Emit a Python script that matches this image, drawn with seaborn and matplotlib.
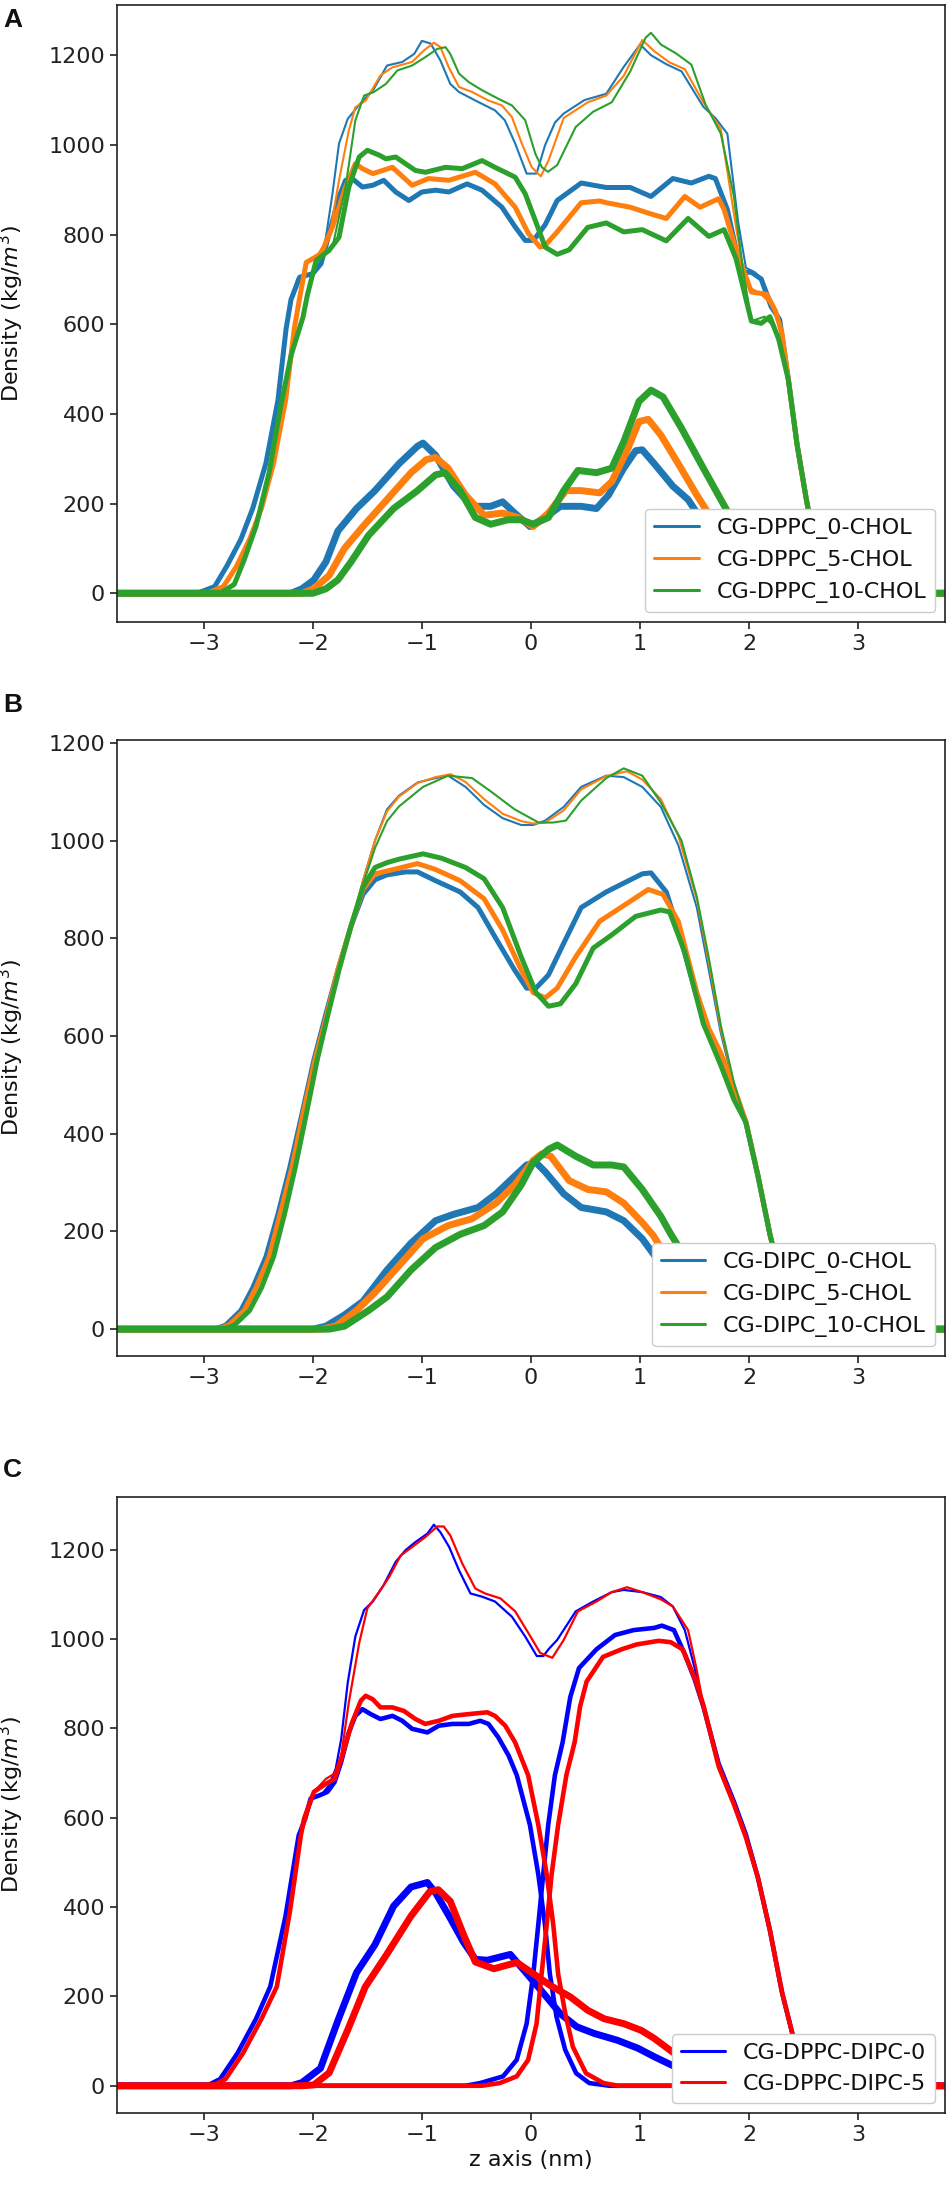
import matplotlib
matplotlib.use("Agg")
import matplotlib.pyplot as plt
import seaborn as sns

# ---------------- DATA ----------------
# x in nm, density in kg/m^3
# Panel A : CG-DPPC with 0 / 5 / 10 CHOL
a_labels = ["CG-DPPC_0-CHOL", "CG-DPPC_5-CHOL", "CG-DPPC_10-CHOL"]
a_colors = ["#1f77b4", "#ff7f0e", "#2ca02c"]

a_tot_0 = [(-3.8, 0), (-3.06, 0), (-2.9, 15), (-2.79, 60), (-2.66, 120), (-2.55, 190), (-2.43, 290),
           (-2.32, 430), (-2.245, 590), (-2.2, 660), (-2.14, 702), (-2.02, 712), (-1.94, 735), (-1.88, 794),
           (-1.82, 891), (-1.76, 1003), (-1.68, 1058), (-1.58, 1088), (-1.44, 1125), (-1.32, 1177),
           (-1.18, 1185), (-1.07, 1203), (-1.0, 1232), (-0.92, 1226), (-0.83, 1188), (-0.74, 1136),
           (-0.66, 1118), (-0.51, 1099), (-0.33, 1077), (-0.24, 1055), (-0.145, 1003), (-0.04, 936),
           (0.05, 936), (0.13, 1000), (0.22, 1050), (0.30, 1070), (0.49, 1100), (0.69, 1114), (0.85, 1174),
           (1.0, 1224), (1.10, 1200), (1.24, 1180), (1.38, 1164), (1.58, 1085), (1.69, 1060), (1.80, 1025),
           (1.90, 826), (1.97, 726), (2.05, 716), (2.12, 701), (2.22, 640), (2.28, 610), (2.36, 475),
           (2.44, 330), (2.52, 215), (2.60, 110), (2.68, 40), (2.78, 5), (2.9, 0), (3.8, 0)]
a_tot_5 = [(-3.8, 0), (-2.97, 0), (-2.82, 15), (-2.70, 60), (-2.58, 120), (-2.47, 190), (-2.36, 290),
           (-2.25, 430), (-2.17, 590), (-2.12, 660), (-2.06, 735), (-1.97, 750), (-1.85, 794), (-1.76, 921),
           (-1.67, 1032), (-1.61, 1084), (-1.515, 1099), (-1.38, 1155), (-1.27, 1173), (-1.09, 1185),
           (-0.98, 1211), (-0.89, 1228), (-0.83, 1218), (-0.754, 1173), (-0.66, 1129), (-0.54, 1118),
           (-0.39, 1099), (-0.266, 1088), (-0.175, 1062), (-0.084, 1003), (0.007, 950), (0.09, 930),
           (0.16, 965), (0.30, 1060), (0.52, 1095), (0.69, 1110), (0.85, 1154), (1.02, 1234), (1.13, 1209),
           (1.27, 1184), (1.41, 1169), (1.58, 1095), (1.74, 1035), (1.88, 816), (1.97, 687), (2.11, 667),
           (2.22, 640), (2.29, 600), (2.36, 475), (2.44, 330), (2.52, 215), (2.60, 110), (2.68, 40),
           (2.78, 5), (2.9, 0), (3.8, 0)]
a_tot_10 = [(-3.8, 0), (-2.85, 0), (-2.72, 20), (-2.63, 74), (-2.52, 150), (-2.40, 270), (-2.30, 410),
            (-2.20, 530), (-2.09, 616), (-2.05, 665), (-1.97, 742), (-1.925, 746), (-1.82, 772), (-1.70, 906),
            (-1.61, 1055), (-1.53, 1110), (-1.44, 1118), (-1.33, 1136), (-1.225, 1166), (-1.09, 1177),
            (-0.967, 1196), (-0.86, 1214), (-0.784, 1218), (-0.74, 1203), (-0.66, 1159), (-0.57, 1140),
            (-0.449, 1122), (-0.30, 1103), (-0.175, 1088), (-0.053, 1055), (0.04, 980), (0.10, 950),
            (0.156, 940), (0.24, 955), (0.41, 1040), (0.57, 1074), (0.74, 1095), (0.91, 1164), (1.05, 1239),
            (1.10, 1250), (1.19, 1224), (1.33, 1204), (1.47, 1179), (1.60, 1090), (1.74, 1025), (1.86, 885),
            (1.94, 726), (2.02, 607), (2.14, 617), (2.24, 590), (2.30, 540), (2.36, 475), (2.44, 330),
            (2.52, 215), (2.60, 110), (2.68, 40), (2.78, 5), (2.9, 0), (3.8, 0)]

a_mid_0 = [(-3.8, 0), (-3.06, 0), (-2.9, 15), (-2.79, 60), (-2.66, 120), (-2.55, 190), (-2.43, 290),
           (-2.32, 430), (-2.245, 590), (-2.2, 655), (-2.12, 705), (-2.0, 713), (-1.925, 735), (-1.85, 802),
           (-1.76, 884), (-1.70, 921), (-1.64, 925), (-1.545, 906), (-1.45, 910), (-1.35, 921), (-1.24, 895),
           (-1.12, 876), (-1.0, 895), (-0.875, 899), (-0.754, 895), (-0.586, 913), (-0.449, 899),
           (-0.266, 861), (-0.145, 817), (-0.053, 787), (0.023, 787), (0.13, 822), (0.24, 876), (0.46, 915),
           (0.69, 905), (0.91, 905), (1.10, 885), (1.30, 925), (1.47, 915), (1.63, 930), (1.69, 925),
           (1.80, 856), (1.88, 766), (1.94, 716), (2.02, 716), (2.11, 701), (2.20, 640), (2.28, 610),
           (2.36, 475), (2.44, 330), (2.52, 215), (2.60, 110), (2.68, 40), (2.78, 5), (2.9, 0), (3.8, 0)]
a_mid_5 = [(-3.8, 0), (-2.97, 0), (-2.82, 15), (-2.70, 60), (-2.58, 120), (-2.47, 190), (-2.36, 290),
           (-2.25, 430), (-2.17, 590), (-2.12, 660), (-2.06, 738), (-1.925, 757), (-1.82, 817), (-1.70, 906),
           (-1.61, 958), (-1.545, 947), (-1.45, 936), (-1.27, 950), (-1.09, 910), (-0.94, 925), (-0.754, 921),
           (-0.51, 939), (-0.33, 913), (-0.145, 861), (-0.023, 802), (0.084, 772), (0.13, 776), (0.24, 806),
           (0.46, 871), (0.63, 875), (0.69, 871), (0.91, 861), (1.10, 846), (1.24, 836), (1.41, 885),
           (1.55, 861), (1.72, 880), (1.77, 856), (1.88, 766), (2.02, 672), (2.16, 667), (2.24, 630),
           (2.30, 580), (2.36, 475), (2.44, 330), (2.52, 215), (2.60, 110), (2.68, 40), (2.78, 5), (2.9, 0),
           (3.8, 0)]
a_mid_10 = [(-3.8, 0), (-2.85, 0), (-2.72, 20), (-2.63, 74), (-2.52, 150), (-2.40, 270), (-2.30, 410),
            (-2.20, 530), (-2.09, 616), (-2.05, 665), (-1.97, 742), (-1.85, 765), (-1.76, 794), (-1.67, 906),
            (-1.575, 973), (-1.50, 988), (-1.39, 977), (-1.33, 969), (-1.24, 973), (-1.06, 943),
            (-0.967, 939), (-0.784, 950), (-0.63, 947), (-0.449, 965), (-0.33, 950), (-0.145, 928),
            (-0.053, 891), (0.04, 831), (0.13, 772), (0.24, 756), (0.35, 766), (0.52, 816), (0.69, 826),
            (0.85, 806), (1.02, 811), (1.24, 786), (1.44, 836), (1.63, 796), (1.77, 811), (1.88, 746),
            (2.02, 607), (2.11, 602), (2.19, 617), (2.27, 567), (2.36, 475), (2.44, 330), (2.52, 215),
            (2.60, 110), (2.68, 40), (2.78, 5), (2.9, 0), (3.8, 0)]

a_low_0 = [(-3.8, 0), (-2.2, 0), (-2.1, 10), (-1.99, 30), (-1.88, 70), (-1.77, 139), (-1.60, 189),
           (-1.43, 229), (-1.21, 289), (-1.04, 328), (-0.99, 335), (-0.875, 308), (-0.71, 239), (-0.54, 194),
           (-0.37, 194), (-0.26, 204), (-0.15, 179), (-0.01, 149), (0.13, 169), (0.27, 194), (0.46, 194),
           (0.60, 189), (0.71, 219), (0.85, 279), (0.96, 318), (1.02, 320), (1.13, 289), (1.30, 239),
           (1.44, 209), (1.60, 150), (1.80, 80), (2.0, 25), (2.2, 3), (2.35, 0), (3.8, 0)]
a_low_5 = [(-3.8, 0), (-2.1, 0), (-1.99, 10), (-1.85, 40), (-1.71, 100), (-1.54, 149), (-1.32, 209),
           (-1.10, 269), (-0.96, 298), (-0.875, 303), (-0.76, 279), (-0.60, 219), (-0.43, 174), (-0.26, 179),
           (-0.12, 169), (0.02, 149), (0.16, 179), (0.32, 229), (0.46, 229), (0.63, 224), (0.74, 249),
           (0.88, 318), (0.99, 383), (1.075, 388), (1.19, 353), (1.35, 289), (1.52, 219), (1.70, 150),
           (1.90, 80), (2.10, 25), (2.30, 3), (2.45, 0), (3.8, 0)]
a_low_10 = [(-3.8, 0), (-2.0, 0), (-1.88, 10), (-1.77, 30), (-1.65, 70), (-1.49, 129), (-1.26, 189),
            (-1.04, 229), (-0.875, 264), (-0.79, 269), (-0.65, 229), (-0.51, 169), (-0.37, 154), (-0.21, 164),
            (-0.09, 164), (0.02, 154), (0.16, 169), (0.30, 229), (0.43, 274), (0.60, 269), (0.74, 279),
            (0.85, 338), (0.99, 428), (1.10, 453), (1.21, 438), (1.38, 368), (1.58, 279), (1.74, 209),
            (1.90, 140), (2.10, 70), (2.30, 20), (2.50, 2), (2.6, 0), (3.8, 0)]

# Panel B : CG-DIPC with 0 / 5 / 10 CHOL
b_labels = ["CG-DIPC_0-CHOL", "CG-DIPC_5-CHOL", "CG-DIPC_10-CHOL"]
b_colors = ["#1f77b4", "#ff7f0e", "#2ca02c"]

b_tot_0 = [(-3.8, 0), (-2.9, 0), (-2.8, 8), (-2.66, 38), (-2.55, 85), (-2.43, 148), (-2.32, 235),
           (-2.21, 332), (-2.10, 440), (-1.99, 551), (-1.88, 645), (-1.77, 735), (-1.65, 825), (-1.54, 918),
           (-1.43, 1000), (-1.32, 1064), (-1.21, 1092), (-1.04, 1119), (-0.875, 1128), (-0.76, 1133),
           (-0.60, 1110), (-0.43, 1073), (-0.26, 1046), (-0.09, 1032), (0.02, 1032), (0.13, 1041),
           (0.30, 1069), (0.46, 1110), (0.69, 1133), (0.85, 1130), (1.02, 1110), (1.19, 1069), (1.35, 991),
           (1.52, 863), (1.63, 735), (1.74, 606), (1.86, 496), (1.97, 423), (2.08, 313), (2.19, 194),
           (2.3, 95), (2.4, 35), (2.5, 8), (2.6, 0), (3.8, 0)]
b_tot_5 = [(-3.8, 0), (-2.88, 0), (-2.77, 8), (-2.63, 38), (-2.52, 85), (-2.40, 148), (-2.30, 235),
           (-2.19, 332), (-2.09, 440), (-1.98, 551), (-1.87, 645), (-1.77, 735), (-1.65, 825), (-1.54, 918),
           (-1.43, 1000), (-1.32, 1060), (-1.21, 1090), (-1.04, 1118), (-0.875, 1130), (-0.735, 1136),
           (-0.60, 1120), (-0.43, 1085), (-0.26, 1055), (-0.09, 1040), (0.02, 1035), (0.13, 1037),
           (0.30, 1062), (0.46, 1105), (0.69, 1132), (0.88, 1142), (1.02, 1125), (1.19, 1085), (1.35, 1010),
           (1.52, 880), (1.63, 750), (1.74, 615), (1.86, 500), (1.97, 425), (2.08, 315), (2.19, 194),
           (2.3, 95), (2.4, 35), (2.5, 8), (2.6, 0), (3.8, 0)]
b_tot_10 = [(-3.8, 0), (-2.82, 0), (-2.72, 8), (-2.58, 38), (-2.47, 85), (-2.36, 148), (-2.26, 235),
            (-2.16, 332), (-2.06, 440), (-1.96, 551), (-1.86, 645), (-1.76, 735), (-1.65, 825), (-1.54, 910),
            (-1.43, 985), (-1.32, 1040), (-1.21, 1070), (-0.99, 1110), (-0.76, 1133), (-0.54, 1128),
            (-0.37, 1101), (-0.15, 1064), (0.07, 1037), (0.20, 1037), (0.32, 1041), (0.46, 1082),
            (0.69, 1128), (0.85, 1148), (1.02, 1133), (1.19, 1078), (1.38, 1000), (1.52, 885), (1.63, 760),
            (1.74, 622), (1.86, 505), (1.97, 425), (2.08, 315), (2.19, 194), (2.3, 95), (2.4, 35), (2.5, 8),
            (2.6, 0), (3.8, 0)]

b_mid_0 = [(-3.8, 0), (-2.9, 0), (-2.8, 8), (-2.66, 38), (-2.55, 85), (-2.43, 148), (-2.32, 235),
           (-2.21, 332), (-2.10, 440), (-1.99, 551), (-1.88, 645), (-1.77, 735), (-1.65, 825), (-1.54, 890),
           (-1.43, 920), (-1.32, 930), (-1.15, 936), (-1.04, 936), (-0.875, 918), (-0.65, 895),
           (-0.485, 863), (-0.32, 799), (-0.15, 735), (-0.04, 698), (0.045, 698), (0.16, 725), (0.30, 790),
           (0.46, 863), (0.69, 895), (0.85, 913), (1.02, 932), (1.10, 934), (1.24, 895), (1.35, 817),
           (1.52, 680), (1.63, 612), (1.74, 560), (1.86, 490), (1.97, 423), (2.08, 313), (2.19, 194),
           (2.3, 95), (2.4, 35), (2.5, 8), (2.6, 0), (3.8, 0)]
b_mid_5 = [(-3.8, 0), (-2.88, 0), (-2.77, 8), (-2.63, 38), (-2.52, 85), (-2.40, 148), (-2.30, 235),
           (-2.19, 332), (-2.09, 440), (-1.98, 551), (-1.87, 645), (-1.77, 735), (-1.65, 825), (-1.54, 900),
           (-1.43, 932), (-1.26, 941), (-1.04, 953), (-0.875, 941), (-0.65, 918), (-0.43, 881), (-0.26, 817),
           (-0.09, 735), (0.02, 689), (0.13, 678), (0.24, 698), (0.41, 762), (0.63, 835), (0.85, 867),
           (1.075, 900), (1.21, 890), (1.35, 835), (1.52, 689), (1.63, 615), (1.74, 565), (1.86, 495),
           (1.97, 425), (2.08, 315), (2.19, 194), (2.3, 95), (2.4, 35), (2.5, 8), (2.6, 0), (3.8, 0)]
b_mid_10 = [(-3.8, 0), (-2.82, 0), (-2.72, 8), (-2.58, 38), (-2.47, 85), (-2.36, 148), (-2.26, 235),
            (-2.16, 332), (-2.06, 440), (-1.96, 551), (-1.86, 645), (-1.76, 735), (-1.65, 825), (-1.54, 905),
            (-1.43, 945), (-1.32, 955), (-1.21, 962), (-0.99, 973), (-0.82, 964), (-0.60, 945), (-0.43, 922),
            (-0.26, 863), (-0.09, 762), (0.045, 689), (0.16, 661), (0.27, 666), (0.41, 707), (0.57, 780),
            (0.74, 807), (0.96, 845), (1.19, 858), (1.27, 854), (1.41, 771), (1.58, 625), (1.74, 540),
            (1.86, 470), (1.97, 423), (2.08, 315), (2.19, 194), (2.3, 95), (2.4, 35), (2.5, 8), (2.6, 0),
            (3.8, 0)]

b_low_0 = [(-3.8, 0), (-2.0, 0), (-1.88, 6), (-1.71, 29), (-1.54, 57), (-1.32, 121), (-1.10, 176),
           (-0.875, 222), (-0.71, 235), (-0.485, 249), (-0.32, 277), (-0.15, 313), (-0.04, 336), (0.045, 341),
           (0.13, 322), (0.30, 277), (0.46, 249), (0.69, 240), (0.85, 222), (1.02, 185), (1.2, 130),
           (1.4, 70), (1.6, 25), (1.8, 5), (1.9, 0), (3.8, 0)]
b_low_5 = [(-3.8, 0), (-1.92, 0), (-1.79, 6), (-1.60, 38), (-1.43, 75), (-1.21, 130), (-0.99, 185),
           (-0.76, 212), (-0.54, 226), (-0.32, 258), (-0.15, 295), (0.02, 345), (0.10, 359), (0.18, 354),
           (0.35, 304), (0.52, 286), (0.69, 281), (0.85, 258), (1.02, 218), (1.12, 192), (1.25, 145),
           (1.45, 80), (1.65, 30), (1.85, 6), (1.95, 0), (3.8, 0)]
b_low_10 = [(-3.8, 0), (-1.85, 0), (-1.71, 6), (-1.49, 38), (-1.32, 66), (-1.10, 121), (-0.875, 167),
            (-0.65, 194), (-0.43, 212), (-0.26, 240), (-0.09, 295), (0.02, 341), (0.16, 368), (0.24, 377),
            (0.41, 354), (0.57, 336), (0.74, 336), (0.85, 332), (1.02, 286), (1.19, 231), (1.28, 195),
            (1.42, 145), (1.6, 80), (1.8, 30), (2.0, 5), (2.1, 0), (3.8, 0)]

# Panel C : CG-DPPC-DIPC with 0 / 5
c_labels = ["CG-DPPC-DIPC-0", "CG-DPPC-DIPC-5"]
c_colors = ["blue", "red"]

c_tot_0 = [(-3.8, 0), (-2.97, 0), (-2.85, 15), (-2.69, 73), (-2.52, 150), (-2.39, 222), (-2.25, 380),
           (-2.13, 560), (-2.07, 598), (-2.00, 643), (-1.925, 650), (-1.85, 673), (-1.79, 710), (-1.74, 776),
           (-1.68, 902), (-1.61, 1006), (-1.53, 1065), (-1.45, 1084), (-1.35, 1121), (-1.24, 1173),
           (-1.15, 1199), (-1.06, 1217), (-0.95, 1236), (-0.89, 1256), (-0.83, 1239), (-0.75, 1206),
           (-0.66, 1154), (-0.555, 1102), (-0.45, 1095), (-0.33, 1084), (-0.175, 1050), (-0.054, 1006),
           (0.053, 962), (0.114, 962), (0.16, 977), (0.24, 998), (0.41, 1062), (0.57, 1084), (0.74, 1105),
           (0.85, 1110), (1.02, 1105), (1.19, 1094), (1.30, 1073), (1.41, 1020), (1.50, 935), (1.58, 849),
           (1.72, 721), (1.86, 636), (1.97, 562), (2.08, 466), (2.19, 348), (2.30, 210), (2.41, 103),
           (2.52, 40), (2.62, 10), (2.72, 0), (3.8, 0)]
c_tot_5 = [(-3.8, 0), (-2.92, 0), (-2.80, 15), (-2.64, 73), (-2.47, 150), (-2.33, 222), (-2.21, 390),
           (-2.11, 560), (-2.06, 598), (-1.99, 658), (-1.88, 687), (-1.80, 699), (-1.74, 739), (-1.67, 858),
           (-1.575, 991), (-1.50, 1069), (-1.39, 1106), (-1.30, 1139), (-1.195, 1187), (-1.09, 1206),
           (-0.97, 1228), (-0.86, 1252), (-0.80, 1252), (-0.74, 1232), (-0.63, 1169), (-0.51, 1113),
           (-0.42, 1102), (-0.28, 1091), (-0.145, 1062), (-0.023, 1013), (0.084, 969), (0.195, 958),
           (0.30, 998), (0.43, 1062), (0.60, 1084), (0.74, 1105), (0.88, 1116), (1.02, 1105), (1.19, 1089),
           (1.30, 1073), (1.44, 1020), (1.52, 930), (1.58, 852), (1.72, 715), (1.86, 630), (1.97, 556),
           (2.08, 466), (2.19, 348), (2.30, 210), (2.41, 103), (2.52, 40), (2.62, 10), (2.72, 0), (3.8, 0)]

c_dppc_0 = [(-3.8, 0), (-2.97, 0), (-2.85, 15), (-2.69, 73), (-2.52, 150), (-2.39, 222), (-2.25, 380),
            (-2.13, 560), (-2.07, 598), (-2.02, 643), (-1.94, 650), (-1.865, 658), (-1.80, 680), (-1.74, 725),
            (-1.67, 791), (-1.61, 828), (-1.545, 843), (-1.47, 832), (-1.38, 821), (-1.27, 828), (-1.18, 817),
            (-1.09, 799), (-0.95, 791), (-0.845, 806), (-0.72, 810), (-0.57, 810), (-0.465, 817),
            (-0.39, 810), (-0.30, 780), (-0.205, 739), (-0.13, 695), (-0.01, 584), (0.067, 473),
            (0.128, 361), (0.173, 250), (0.234, 154), (0.314, 80), (0.414, 28), (0.534, 6), (0.72, 0),
            (3.8, 0)]
c_dppc_5 = [(-3.8, 0), (-2.92, 0), (-2.80, 15), (-2.64, 73), (-2.47, 150), (-2.33, 222), (-2.21, 390),
            (-2.11, 560), (-2.08, 598), (-1.99, 658), (-1.88, 676), (-1.80, 687), (-1.73, 739), (-1.64, 813),
            (-1.56, 862), (-1.515, 873), (-1.45, 865), (-1.38, 847), (-1.27, 847), (-1.165, 839),
            (-1.06, 821), (-0.97, 810), (-0.845, 817), (-0.72, 828), (-0.57, 832), (-0.40, 836), (-0.33, 828),
            (-0.236, 806), (-0.146, 769), (-0.026, 695), (0.067, 584), (0.144, 473), (0.204, 361),
            (0.249, 250), (0.314, 162), (0.384, 87), (0.504, 28), (0.664, 6), (0.8, 0), (3.8, 0)]

c_dipc_0 = [(-3.8, 0), (-0.6, 0), (-0.466, 6), (-0.256, 21), (-0.131, 58), (-0.04, 139), (0.021, 250),
            (0.067, 361), (0.112, 473), (0.158, 584), (0.219, 695), (0.29, 769), (0.36, 870), (0.44, 935),
            (0.60, 977), (0.77, 1009), (0.94, 1020), (1.13, 1025), (1.20, 1030), (1.31, 1020), (1.41, 966),
            (1.50, 910), (1.58, 849), (1.72, 721), (1.86, 636), (1.97, 562), (2.08, 466), (2.19, 348),
            (2.30, 210), (2.41, 103), (2.52, 40), (2.62, 10), (2.72, 0), (3.8, 0)]
c_dipc_5 = [(-3.8, 0), (-0.45, 0), (-0.286, 6), (-0.131, 21), (-0.026, 58), (0.051, 139), (0.097, 250),
            (0.144, 361), (0.189, 473), (0.249, 584), (0.324, 695), (0.40, 769), (0.45, 849), (0.51, 905),
            (0.66, 960), (0.83, 977), (0.97, 988), (1.17, 996), (1.28, 993), (1.39, 977), (1.50, 913),
            (1.58, 852), (1.72, 715), (1.86, 630), (1.97, 556), (2.08, 466), (2.19, 348), (2.30, 210),
            (2.41, 103), (2.52, 40), (2.62, 10), (2.72, 0), (3.8, 0)]

c_low_0 = [(-3.8, 0), (-2.2, 0), (-2.1, 7), (-1.93, 39), (-1.77, 146), (-1.60, 253), (-1.43, 316),
           (-1.26, 402), (-1.10, 445), (-0.95, 455), (-0.875, 432), (-0.74, 375), (-0.62, 322), (-0.51, 283),
           (-0.40, 281), (-0.19, 294), (-0.035, 250), (0.118, 206), (0.27, 161), (0.42, 132), (0.58, 117),
           (0.79, 102), (0.98, 84), (1.13, 65), (1.3, 45), (1.5, 28), (1.7, 15), (1.9, 6), (2.1, 0), (3.8, 0)]
c_low_5 = [(-3.8, 0), (-2.1, 0), (-1.99, 2), (-1.85, 29), (-1.68, 125), (-1.52, 221), (-1.32, 295),
           (-1.10, 380), (-0.93, 434), (-0.85, 439), (-0.74, 413), (-0.62, 339), (-0.51, 277), (-0.34, 262),
           (-0.13, 276), (0.026, 250), (0.18, 224), (0.36, 199), (0.52, 169), (0.67, 150), (0.85, 139),
           (1.01, 124), (1.13, 106), (1.3, 75), (1.5, 45), (1.7, 22), (1.9, 8), (2.1, 0), (3.8, 0)]

x_ticks = [-3, -2, -1, 0, 1, 2, 3]
y_ticks = [0, 200, 400, 600, 800, 1000, 1200]

# ---------------- STYLE ----------------
sns.set_theme(style="ticks")
plt.rcParams["font.family"] = ["DejaVu Sans"]
plt.rcParams.update({
    "axes.linewidth": 1.2,
    "xtick.major.width": 1.2, "ytick.major.width": 1.2,
    "xtick.major.size": 5, "ytick.major.size": 5,
    "xtick.labelsize": 16, "ytick.labelsize": 16,
    "axes.labelsize": 16,
    "axes.edgecolor": "#222222",
    "xtick.color": "#222222", "ytick.color": "#222222",
    "text.color": "#111111", "axes.labelcolor": "#111111",
})

W, H = 950, 2186
fig = plt.figure(figsize=(W / 100, H / 100), dpi=100)

LEFT, RIGHT = 117, 945
panels = [
    # top px, bottom px, ylim
    (5, 622, (-64, 1312)),
    (740, 1356, (-55, 1206)),
    (1497, 2113, (-61, 1318)),
]

def make_ax(top, bottom):
    return fig.add_axes([LEFT / W, 1 - bottom / H, (RIGHT - LEFT) / W, (bottom - top) / H])

def draw(ax, pts, color, lw, label=None):
    xs = [p[0] for p in pts]
    ys = [p[1] for p in pts]
    sns.lineplot(x=xs, y=ys, ax=ax, color=color, linewidth=lw, estimator=None,
                 sort=False, label=label, legend=False)

def finish(ax, ylim, xlabel=None):
    ax.set_xlim(-3.795, 3.795)
    ax.set_ylim(*ylim)
    ax.set_xticks(x_ticks)
    ax.set_yticks(y_ticks)
    for s in ax.spines.values():
        s.set_visible(True)
    ax.set_ylabel("Density (kg/$m^3$)")
    ax.yaxis.set_label_coords(-0.11, 0.5)
    if xlabel:
        ax.set_xlabel(xlabel, labelpad=4)
    else:
        ax.set_xlabel("")
    leg = ax.legend(loc="lower right", fontsize=16, framealpha=1.0, edgecolor="#cccccc",
                    borderaxespad=0.45)
    for ln in leg.get_lines():
        ln.set_linewidth(2.2)

# Panel A
axA = make_ax(*panels[0][:2])
for tot, mid, low, col, lab in zip([a_tot_0, a_tot_5, a_tot_10], [a_mid_0, a_mid_5, a_mid_10],
                                   [a_low_0, a_low_5, a_low_10], a_colors, a_labels):
    draw(axA, tot, col, 1.5, lab)
    draw(axA, mid, col, 3.6)
    draw(axA, low, col, 5.0)
finish(axA, panels[0][2])

# Panel B
axB = make_ax(*panels[1][:2])
for tot, mid, low, col, lab in zip([b_tot_0, b_tot_5, b_tot_10], [b_mid_0, b_mid_5, b_mid_10],
                                   [b_low_0, b_low_5, b_low_10], b_colors, b_labels):
    draw(axB, tot, col, 1.5, lab)
    draw(axB, mid, col, 3.6)
    draw(axB, low, col, 5.0)
finish(axB, panels[1][2])

# Panel C
axC = make_ax(*panels[2][:2])
for tot, dp, di, low, col, lab in zip([c_tot_0, c_tot_5], [c_dppc_0, c_dppc_5], [c_dipc_0, c_dipc_5],
                                      [c_low_0, c_low_5], c_colors, c_labels):
    draw(axC, tot, col, 1.6, lab)
    draw(axC, dp, col, 3.3)
    draw(axC, di, col, 3.3)
    draw(axC, low, col, 5.0)
finish(axC, panels[2][2], xlabel="z axis (nm)")

# panel letters
for letter, base in [("A", 27), ("B", 712), ("C", 1477)]:
    fig.text(3 / W, 1 - base / H, letter, fontsize=19, fontweight="bold",
             family=["Liberation Sans", "DejaVu Sans"], ha="left", va="baseline")

fig.savefig("out.png", dpi=100)
